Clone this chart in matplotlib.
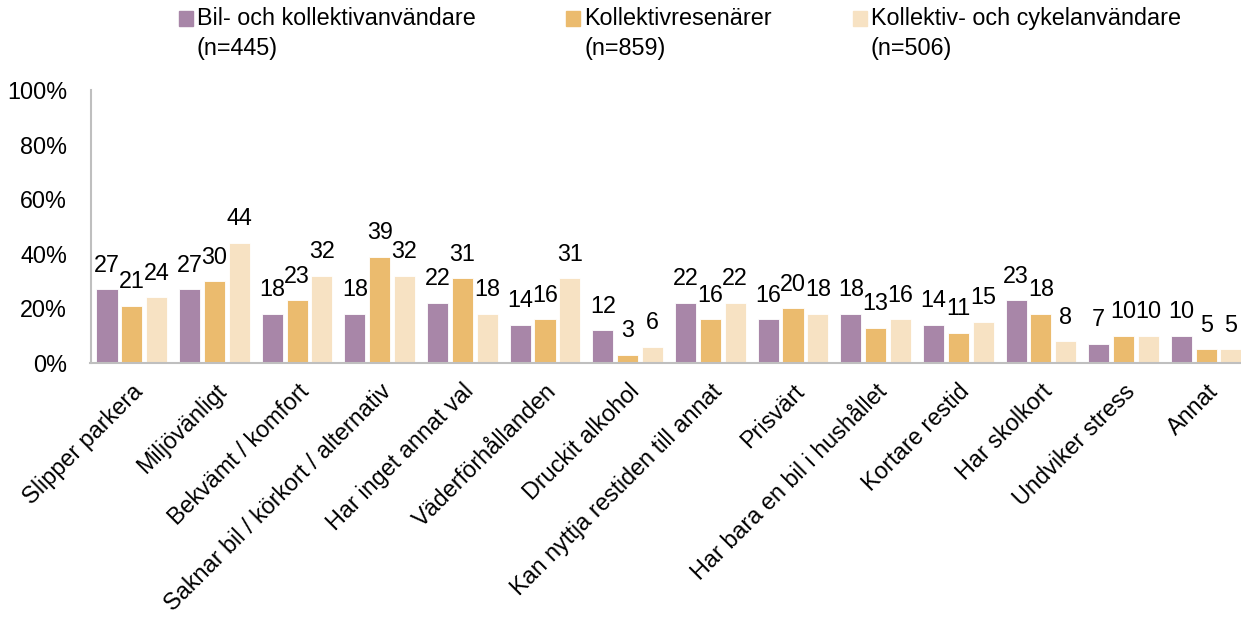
import matplotlib.pyplot as plt
import numpy as np
from matplotlib.patches import Rectangle

plt.rcParams["font.family"] = ["Liberation Sans", "DejaVu Sans"]

categories = [
    "Slipper parkera",
    "Miljövänligt",
    "Bekvämt / komfort",
    "Saknar bil / körkort / alternativ",
    "Har inget annat val",
    "Väderförhållanden",
    "Druckit alkohol",
    "Kan nyttja restiden till annat",
    "Prisvärt",
    "Har bara en bil i hushållet",
    "Kortare restid",
    "Har skolkort",
    "Undviker stress",
    "Annat",
]
bil_kollektiv = [27, 27, 18, 18, 22, 14, 12, 22, 16, 18, 14, 23, 7, 10]
kollektivresenarer = [21, 30, 23, 39, 31, 16, 3, 16, 20, 13, 11, 18, 10, 5]
kollektiv_cykel = [24, 44, 32, 32, 18, 31, 6, 22, 18, 16, 15, 8, 10, 5]

series_names = [
    "Bil- och kollektivanvändare\n(n=445)",
    "Kollektivresenärer\n(n=859)",
    "Kollektiv- och cykelanvändare\n(n=506)",
]
colors = ["#A886A8", "#EBBB6E", "#F7E2C3"]
yticks = [0, 20, 40, 60, 80, 100]
FS = 16.8

W, H = 1241, 619
fig = plt.figure(figsize=(W / 100, H / 100), dpi=100)
left, right, bottom, top = 90.5, 1247.5, 363, 90
ax = fig.add_axes([left / W, 1 - bottom / H, (right - left) / W, (bottom - top) / H])

x = np.arange(len(categories))
offset = 0.30
width = 0.255
for i, (vals, color) in enumerate(zip([bil_kollektiv, kollektivresenarer, kollektiv_cykel], colors)):
    pos = x + (i - 1) * offset
    ax.bar(pos, vals, width=width, color=color, edgecolor="white", linewidth=0.6)
    for p, v in zip(pos, vals):
        ax.text(p, v + 4.6, str(v), ha="center", va="bottom", fontsize=FS)

ax.set_xlim(-0.5, len(categories) - 0.5)
ax.set_ylim(0, 100)
ax.set_yticks(yticks)
ax.set_yticklabels([f"{t}%" for t in yticks], fontsize=FS)
ax.set_xticks(x)
ax.set_xticklabels(categories, rotation=45, ha="right", rotation_mode="anchor", fontsize=FS)
ax.tick_params(axis="y", length=0, pad=17)
ax.tick_params(axis="x", length=0, pad=12)
for side in ["top", "right"]:
    ax.spines[side].set_visible(False)
for side in ["left", "bottom"]:
    ax.spines[side].set_color("#BFBFBF")
    ax.spines[side].set_linewidth(1.5)

# legend drawn by hand so the swatch sits on the first text line
legend_x = [179, 566, 853]
for lx, name, color in zip(legend_x, series_names, colors):
    fig.patches.append(Rectangle((lx / W, 1 - 26 / H), 14 / W, 15 / H,
                                 transform=fig.transFigure, color=color))
    fig.text((lx + 18) / W, 1 - 7 / H, name, ha="left", va="top", fontsize=FS,
             linespacing=1.4)

fig.savefig("out.png", dpi=100, facecolor="white")
